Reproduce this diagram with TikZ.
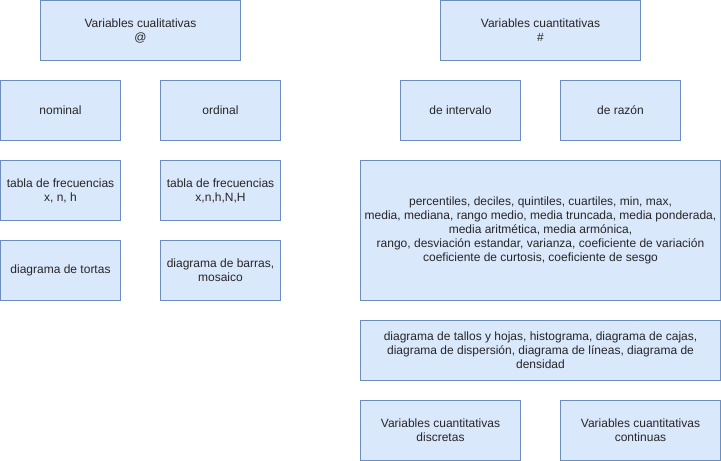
\documentclass[tikz,border=0pt]{standalone}
\usepackage{fontspec}
\setmainfont{Liberation Sans}
\usepackage{tikz}
\usetikzlibrary{positioning}
\definecolor{boxfill}{HTML}{DAE8FC}
\definecolor{boxline}{HTML}{6C8EBF}
\tikzstyle{base}=[x=1pt, y=-1pt, inner sep=0pt, outer sep=0pt]
\tikzstyle{card}=[draw=boxline, fill=boxfill, line width=1pt, align=center,
  font=\fontsize{12}{14}\selectfont, text=black!85]
\tikzstyle{small}=[card, minimum width=120pt, minimum height=60pt]
\tikzstyle{wide}=[card, minimum width=200pt, minimum height=60pt]

\begin{document}
\begin{tikzpicture}[base]
        \path[use as bounding box] (0,0) rectangle (721,461);
        % cualitativas
        \node[wide] (cual) at (140.5,30.5) {Variables cualitativas\\@};
        \node[small] (nom) at (60.5,110.5) {nominal};
        \node[small] (ord) at (220.5,110.5) {ordinal};
        \node[small] (tabnom) at (60.5,190.5) {tabla de frecuencias\\x, n, h};
        \node[small] (tabord) at (220.5,190.5) {tabla de frecuencias\\x,n,h,N,H};
        \node[small] (tortas) at (60.5,270.5) {diagrama de tortas};
        \node[small] (barras) at (220.5,270.5) {diagrama de barras,\\mosaico};
        % cuantitativas
        \node[wide] (cuant) at (540.5,30.5) {Variables cuantitativas\\\#};
        \node[small] (inter) at (460.5,110.5) {de intervalo};
        \node[small] (razon) at (620.5,110.5) {de raz\'on};
        \node[card, minimum width=360pt, minimum height=140pt] (medidas) at (540.5,230.5)
          {percentiles, deciles, quintiles, cuartiles, min, max,\\
           media, mediana, rango medio, media truncada, media ponderada,\\
           media aritmética, media armónica,\\
           rango, desviación estandar, varianza, coeficiente de variación\\
           coeficiente de curtosis, coeficiente de sesgo};
        \node[card, minimum width=360pt, minimum height=60pt] (graficos) at (540.5,350.5)
          {diagrama de tallos y hojas, histograma, diagrama de cajas,\\
           diagrama de dispersión, diagrama de líneas, diagrama de\\
           densidad};
        \node[card, minimum width=160pt, minimum height=60pt] (disc) at (440.5,430.5)
          {Variables cuantitativas\\discretas};
        \node[card, minimum width=160pt, minimum height=60pt] (cont) at (640.5,430.5)
          {Variables cuantitativas\\continuas};
    \end{tikzpicture}
\end{document}
